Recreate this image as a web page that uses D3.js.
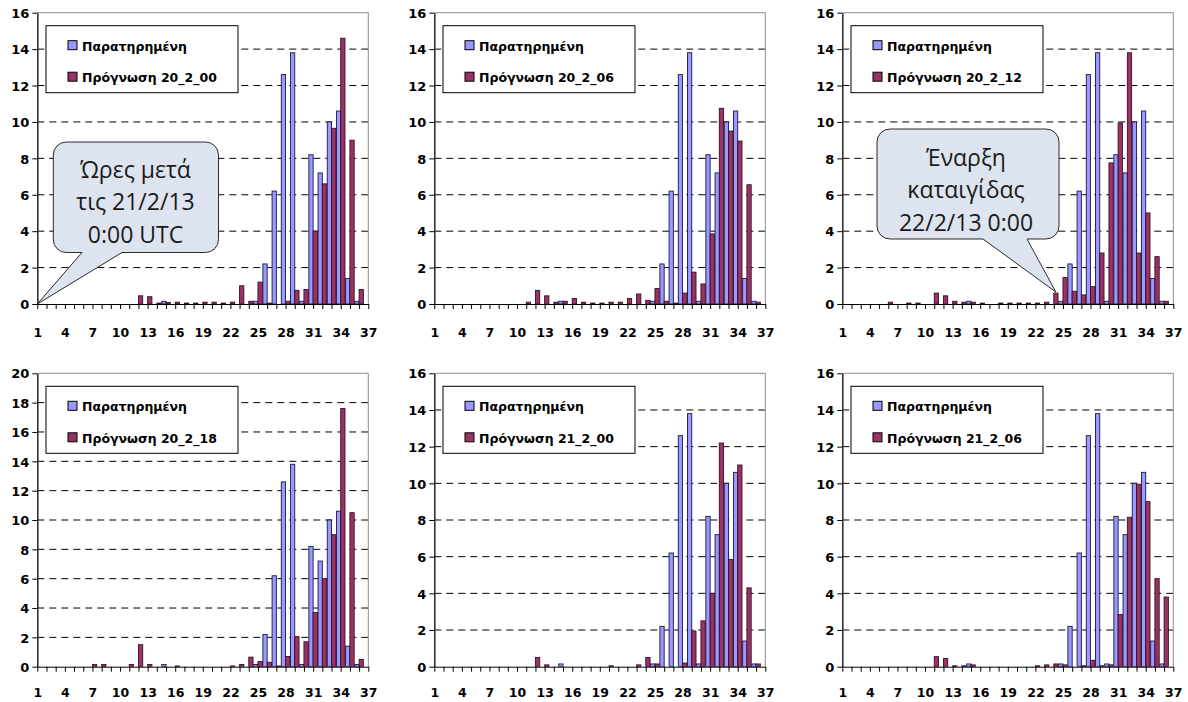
<!DOCTYPE html>
<html><head><meta charset="utf-8">
<script src="https://cdn.jsdelivr.net/npm/d3@7"></script>
<style>body{margin:0;background:#fff}svg{display:block}</style>
</head><body>
<svg id="c" width="1188" height="702"></svg>
<script>
// ---------- DATA ----------
const categories = [1,2,3,4,5,6,7,8,9,10,11,12,13,14,15,16,17,18,19,20,21,22,23,24,25,26,27,28,29,30,31,32,33,34,35,36,37];
const xTickLabels = [1,4,7,10,13,16,19,22,25,28,31,34,37];
const observedName = "Παρατηρημένη";
const observed = [0,0,0,0,0,0,0,0,0,0,0,0,0,0,0.15,0,0,0,0,0,0,0,0,0,0.15,2.2,6.2,12.6,13.8,0.15,8.2,7.2,10.0,10.6,1.4,0.15,0];
const forecastNames = ["Πρόγνωση 20_2_00","Πρόγνωση 20_2_06","Πρόγνωση 20_2_12","Πρόγνωση 20_2_18","Πρόγνωση 21_2_00","Πρόγνωση 21_2_06"];
const fc_20_2_00 = [0,0,0,0,0,0,0,0,0,0,0,0.45,0.4,0.05,0.08,0.1,0.05,0.05,0.1,0.1,0.05,0.1,1.0,0.15,1.2,0.05,0,0.15,0.75,0.8,4.0,6.6,9.65,14.6,9.0,0.8,0];
const fc_20_2_06 = [0,0,0,0,0,0,0,0,0,0,0.1,0.75,0.45,0.1,0.15,0.3,0.1,0.05,0.05,0.1,0.1,0.3,0.55,0.2,0.85,0.15,0.05,0.6,1.75,1.1,3.85,10.75,9.5,8.95,6.55,0.1,0];
const fc_20_2_12 = [0,0,0,0,0,0.1,0,0.05,0.05,0,0.6,0.45,0.15,0.1,0.1,0.05,0,0.05,0.05,0.05,0.05,0.05,0.1,0.6,1.45,0.7,0.5,0.95,2.8,7.75,9.95,13.8,2.8,5.0,2.6,0.15,0];
const fc_20_2_18 = [0,0,0,0,0,0,0.15,0.15,0,0,0.15,1.5,0.15,0,0,0.05,0,0,0,0,0,0.05,0.15,0.65,0.35,0.3,0.05,0.7,2.05,1.7,3.7,6.0,9.0,17.6,10.5,0.5,0];
const fc_21_2_00 = [0,0,0,0,0,0,0,0,0,0,0,0.5,0.1,0,0,0,0,0,0,0.05,0,0,0.1,0.5,0.15,0,0,0.2,1.95,2.5,4.0,12.2,5.85,11.0,4.3,0.15,0];
const fc_21_2_06 = [0,0,0,0,0,0,0,0,0,0,0.55,0.45,0.05,0.05,0.1,0,0,0,0,0,0,0.05,0.1,0.15,0.1,0,0.05,0.35,0.05,0.1,2.85,8.15,9.95,9.0,4.8,3.8,0];
const yMaxes = [16,16,16,20,16,16];
const callout1Lines = ["Ώρες μετά","τις 21/2/13","0:00 UTC"];
const callout1Target = {cat: 1, value: 0};
const callout2Lines = ["Έναρξη","καταιγίδας","22/2/13 0:00"];
const callout2Target = {cat: 24, value: 0.6};

// ---------- LAYOUT ----------
const forecasts = [fc_20_2_00, fc_20_2_06, fc_20_2_12, fc_20_2_18, fc_21_2_00, fc_21_2_06];
const colX = [37.3, 434.3, 842.3];
const plotW = 331;
const rowTop = [12.7, 373.3];
const rowBottom = [304, 666.7];
const xLabelOffset = [32.5, 30];
const BLUE = "#9999ff", MAROON = "#993366";
const tickFont = "'DejaVu Sans', sans-serif";

const svg = d3.select("#c");
const defs = svg.append("defs");

const panels = [];
forecasts.forEach((fc, i) => {
  const col = i % 3, row = Math.floor(i / 3);
  const x0 = colX[col], top = rowTop[row], bottom = rowBottom[row];
  const x = d3.scalePoint().domain(categories).range([x0, x0 + plotW]);
  const y = d3.scaleLinear().domain([0, yMaxes[i]]).range([bottom, top]);
  const step = x.step();
  const bw = step * 0.465;
  const g = svg.append("g");
  panels.push({x, y, bw, g});

  const ticks = d3.range(0, yMaxes[i] + 1, 2);
  // gridlines
  g.append("g").selectAll("line").data(ticks.filter(t => t > 0 && t < yMaxes[i])).join("line")
    .attr("x1", x0).attr("x2", x0 + plotW).attr("y1", d => y(d)).attr("y2", d => y(d))
    .attr("stroke", "#000").attr("stroke-width", 1).attr("stroke-dasharray", "7,5");
  // top and right border
  g.append("path").attr("d", `M${x0},${top}H${x0 + plotW}V${bottom}`)
    .attr("fill", "none").attr("stroke", "#8c8c8c").attr("stroke-width", 1);

  // bars
  const cid = "clip" + i;
  defs.append("clipPath").attr("id", cid).append("rect")
    .attr("x", x0).attr("y", top - 2).attr("width", plotW).attr("height", bottom - top + 2);
  const bars = g.append("g").attr("clip-path", `url(#${cid})`);
  const rows = categories.map((c, k) => ({c, o: observed[k], f: fc[k]}));
  bars.selectAll("rect.o").data(rows.filter(d => d.o > 0)).join("rect").attr("class", "o")
    .attr("x", d => x(d.c) - bw).attr("width", bw)
    .attr("y", d => y(d.o)).attr("height", d => y(0) - y(d.o))
    .attr("fill", BLUE).attr("stroke", "#1a1a40").attr("stroke-width", 0.9);
  bars.selectAll("rect.f").data(rows.filter(d => d.f > 0)).join("rect").attr("class", "f")
    .attr("x", d => x(d.c)).attr("width", bw)
    .attr("y", d => y(d.f)).attr("height", d => y(0) - y(d.f))
    .attr("fill", MAROON).attr("stroke", "#3a1026").attr("stroke-width", 0.9);

  // axes
  const ay = g.append("g").attr("transform", `translate(${x0},0)`)
    .call(d3.axisLeft(y).tickValues(ticks).tickSize(5).tickSizeOuter(0).tickPadding(3));
  ay.select(".domain").attr("stroke", "#333").attr("stroke-width", 1.6);
  ay.selectAll(".tick line").attr("stroke", "#000");
  ay.selectAll("text").attr("font-family", tickFont).attr("font-weight", "bold")
    .attr("font-size", 13).attr("fill", "#000").attr("dy", "0.36em");

  const ax = g.append("g").attr("transform", `translate(0,${bottom})`)
    .call(d3.axisBottom(x).tickSize(5).tickSizeOuter(0)
      .tickFormat(d => xTickLabels.includes(d) ? d : ""));
  ax.select(".domain").attr("stroke", "#000").attr("stroke-width", 1);
  ax.selectAll(".tick line").attr("stroke", "#000");
  ax.selectAll("text").attr("font-family", tickFont).attr("font-weight", "bold")
    .attr("font-size", 12.5).attr("fill", "#000").attr("y", xLabelOffset[row]).attr("dy", 0);

  // legend
  const lg = g.append("g").attr("transform", `translate(${x0 + 8.7},${top + 13})`);
  lg.append("rect").attr("width", 192).attr("height", 67).attr("fill", "#fff")
    .attr("stroke", "#000").attr("stroke-width", 1);
  const items = [{name: observedName, color: BLUE}, {name: forecastNames[i], color: MAROON}];
  items.forEach((it, k) => {
    lg.append("rect").attr("x", 22).attr("y", 15 + k * 31.5).attr("width", 9).attr("height", 9)
      .attr("fill", it.color).attr("stroke", "#000").attr("stroke-width", 1);
    lg.append("text").attr("x", 36).attr("y", 25 + k * 31.5).text(it.name)
      .attr("font-family", tickFont).attr("font-weight", "bold").attr("font-size", 12.5).attr("fill", "#000");
  });
});

// ---------- CALLOUTS ----------
function callout(p, box, baseX1, baseX2, tip, lines, cx, baselines) {
  const r = 13;
  const {x1, y1, x2, y2} = box;
  const d = `M${x1 + r},${y1}H${x2 - r}A${r},${r} 0 0 1 ${x2},${y1 + r}V${y2 - r}A${r},${r} 0 0 1 ${x2 - r},${y2}` +
    `H${baseX2}L${tip[0]},${tip[1]}L${baseX1},${y2}H${x1 + r}A${r},${r} 0 0 1 ${x1},${y2 - r}V${y1 + r}A${r},${r} 0 0 1 ${x1 + r},${y1}Z`;
  const g = svg.append("g");
  g.append("path").attr("d", d).attr("fill", "#dde4ef").attr("stroke", "#2a2a2a").attr("stroke-width", 1);
  lines.forEach((t, k) => {
    g.append("text").attr("x", cx).attr("y", baselines[k]).attr("text-anchor", "middle")
      .attr("font-family", "'Open Sans', sans-serif").attr("font-size", 23).attr("fill", "#1a1a1a").text(t);
  });
}
{
  const p = panels[0];
  const tip = [p.x(callout1Target.cat), p.y(callout1Target.value)];
  callout(p, {x1: 53.3, y1: 142, x2: 218.5, y2: 252.5}, 82, 122, tip, callout1Lines, 135.5, [177.5, 210, 242.5]);
}
{
  const p = panels[2];
  const tip = [p.x(callout2Target.cat) + p.bw / 2, p.y(callout2Target.value) - 1];
  callout(p, {x1: 877, y1: 129, x2: 1059, y2: 239}, 983, 1027, tip, callout2Lines, 966, [165.5, 198, 230.5]);
}
</script>
</body></html>
